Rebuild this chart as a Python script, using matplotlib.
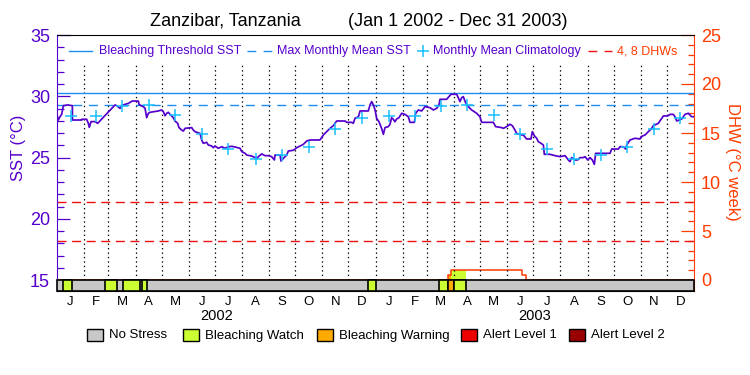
import matplotlib
matplotlib.use('Agg')
import matplotlib.pyplot as plt
from matplotlib.patches import Rectangle
from matplotlib.lines import Line2D
import numpy as np

plt.rcParams['font.family'] = ['Liberation Sans', 'DejaVu Sans']
plt.rcParams['lines.scale_dashes'] = False

# ---------------- data ----------------
title_site = "Zanzibar, Tanzania"
title_period = "(Jan 1 2002 - Dec 31 2003)"

# day since Jan 1 2002, SST (deg C)
sst_days = [0, 1.5, 3.4, 5.3, 7.3, 12.2, 17.6, 17.7, 28.3, 28.4, 34, 35.9, 37, 39, 43.6, 46.6,
            66.5, 68.4, 72.2, 74.1, 78, 81.8, 86.3, 93.2, 94, 96.3, 99, 100.9, 102.8, 104.7,
            106.6, 116.1, 120, 121.9, 123.8, 125.7, 127.6, 129.5, 133.3, 135.2, 138.3, 139.8,
            142.9, 144.8, 146.7, 154.3, 156.2, 158.1, 163.9, 165.8, 167.7, 171.5, 173.4, 177.2,
            179.2, 181, 184.9, 188.7, 192.6, 196.4, 200.2, 204, 209.8, 211.7, 215.5, 217.4,
            223.1, 227, 228.9, 230.8, 234.6, 238.4, 242.2, 246, 249.1, 249.9, 255.6, 256.7,
            259.4, 263.2, 265.1, 270.9, 274.7, 278.5, 282.3, 286.2, 290, 301.4, 305.2, 309.1,
            312.9, 316.7, 320.5, 330.1, 332, 337.7, 339.6, 341.5, 345.4, 347.3, 356.8, 358.7,
            360.6, 362.6, 364.5, 366.3, 369, 372, 374, 375.9, 379.7, 381.6, 383.5, 385.4,
            387.3, 389.2, 391.9, 395, 398.8, 402.6, 404.5, 409.5, 411, 414.1, 417.9, 421.7,
            427.4, 431.3, 435.1, 437.7, 438.9, 446.5, 449.2, 451.5, 458, 459.9, 461.8, 463.7,
            465.6, 467.5, 469.5, 475.2, 480.9, 484.7, 486.6, 500, 502.7, 509.6, 511.5, 515.3,
            519.1, 521.8, 524.8, 526.7, 532.5, 534.4, 538.2, 543.2, 544.7, 547, 549.7, 551.6,
            554.7, 557.4, 558.5, 565, 570.7, 576.5, 582.2, 586, 587.9, 589.8, 593.6, 596.7,
            599.4, 603.2, 605.1, 608.2, 610.8, 613.5, 615.8, 617.3, 633.7, 635.7, 643.3, 645.2,
            649, 651.7, 652.9, 656.7, 662.4, 668.1, 669.3, 673.9, 677.7, 681.5, 683.4, 689.1,
            693, 694.9, 699.8, 702.5, 706.3, 708.2, 710.2, 715.9, 719.7, 723.5, 725.4, 727.3, 730]
sst_vals = [28.47, 28.06, 28.33, 28.52, 29.23, 29.29, 29.23, 28.06, 28.06, 28.12, 28.12, 27.79,
            27.46, 27.93, 27.93, 27.79, 29.29, 29.23, 29.01, 29.23, 29.34, 29.42, 29.61, 29.61,
            29.34, 29.23, 29.15, 29.01, 28.25, 28.61, 28.69, 28.80, 28.88, 28.74, 28.41, 28.61,
            28.69, 28.52, 28.25, 27.98, 27.79, 27.44, 27.24, 27.16, 27.38, 27.44, 27.24, 27.11,
            26.97, 26.43, 26.16, 26.24, 26.02, 25.94, 25.80, 25.94, 25.75, 25.88, 25.75, 25.88,
            25.91, 25.86, 25.75, 25.48, 25.34, 25.20, 25.12, 24.99, 24.93, 25.07, 25.29, 25.15,
            25.15, 25.07, 24.80, 25.20, 25.20, 24.71, 24.93, 25.20, 25.53, 25.59, 25.80, 25.94,
            26.07, 26.35, 26.43, 26.43, 26.84, 27.11, 27.38, 27.60, 27.98, 27.98, 27.87, 27.87,
            27.79, 28.20, 28.33, 28.80, 28.80, 29.29, 29.56, 29.29, 28.88, 28.20, 27.92, 27.38,
            26.89, 27.44, 27.52, 27.71, 28.25, 28.12, 27.92, 28.14, 28.25, 28.61, 28.52, 28.33,
            27.87, 27.87, 28.61, 28.88, 28.80, 29.15, 29.07, 28.88, 29.01, 29.29, 29.75, 29.75,
            29.97, 30.16, 30.16, 29.88, 29.56, 29.88, 29.97, 29.61, 29.29, 28.88, 28.61, 28.33,
            27.87, 27.87, 27.52, 27.44, 27.38, 27.52, 27.71, 27.60, 27.24, 26.97, 26.84, 26.84,
            26.51, 26.51, 27.11, 26.78, 26.57, 26.29, 26.16, 26.02, 25.26, 25.26, 25.15, 25.07,
            25.15, 24.80, 24.66, 24.99, 24.80, 24.80, 24.99, 24.99, 25.07, 24.80, 24.99, 24.80,
            24.44, 25.34, 25.34, 25.69, 25.69, 25.88, 25.88, 25.69, 26.02, 26.43, 26.57, 26.51,
            26.70, 26.84, 27.11, 27.38, 27.60, 27.79, 28.20, 28.39, 28.39, 28.52, 28.52, 28.33,
            27.98, 28.14, 28.52, 28.61, 28.47, 28.33, 28.33]

# monthly mean climatology (Jan..Dec)
clim_vals = [28.41, 28.41, 29.20, 29.26, 28.47, 26.89, 25.67, 24.85, 25.20, 25.83, 27.30, 28.20]
mmm = 29.26
threshold = 30.26
dhw_levels = [4, 8]

# degree heating weeks (step function)
dhw_days = [0, 448.4, 451.8, 532.5, 537.1, 730]
dhw_vals = [0, 0.5, 1.0, 0.5, 0.0, 0.0]

# stress status periods (start day, end day, level)
stress_periods = [(7.2, 17.5, 'watch'), (55.4, 69.1, 'watch'), (76, 95.1, 'watch'),
                  (97, 102.8, 'watch'), (356.8, 365, 'watch'), (438.2, 448.4, 'watch'),
                  (448.4, 455.3, 'warning'), (455.3, 468.7, 'watch')]
dhw_fill_periods = [(448.4, 451.8, 'warning'), (451.8, 468.7, 'watch')]

month_letters = ['J', 'F', 'M', 'A', 'M', 'J', 'J', 'A', 'S', 'O', 'N', 'D']
month_lengths = [31, 28, 31, 30, 31, 30, 31, 31, 30, 31, 30, 31]
years = ['2002', '2003']

legend_labels = ['No Stress', 'Bleaching Watch', 'Bleaching Warning', 'Alert Level 1', 'Alert Level 2']

# ---------------- style ----------------
PURPLE = '#5500CC'
TH_BLUE = '#1E8CF0'
CLIM = '#18C0FF'
DHW_COL = '#FF3C00'
RED_DASH = '#EE1111'
COLORS = {'none': '#C8C8C8', 'watch': '#CCFF33', 'warning': '#FFAA00',
          'alert1': '#EE0000', 'alert2': '#990000'}

W, H = 750, 375
def fx(x): return x / W
def fy(y): return 1 - y / H

fig = plt.figure(figsize=(7.5, 3.75), dpi=100)
fig.patch.set_facecolor('white')
L, R, T, B = 57, 694, 35, 290.7
ax = fig.add_axes([fx(L), fy(B), (R - L) / W, (B - T) / H])
ax2 = ax.twinx()

ybot = 15 - (B - 280) / 12.25
ax.set_xlim(0, 730)
ax.set_ylim(ybot, 35)
ax2.set_ylim((ybot - 15) * 1.25, 25)

ax.set_zorder(ax2.get_zorder() + 1)
ax.patch.set_visible(False)

# month geometry
starts = []
d = 0
for yr in range(2):
    for ml in month_lengths:
        starts.append(d)
        d += ml
starts = np.array(starts)
lengths = np.array(month_lengths * 2)
mids = starts + lengths / 2.0

# dotted month separators
ax.vlines(starts[1:], 15, 32.71, colors='black', linestyles=(0, (1.0, 2.2)), lw=0.9, zorder=1)

# reference lines
ax.axhline(threshold, color=TH_BLUE, lw=1.0, zorder=2)
ax.axhline(mmm, color=TH_BLUE, lw=1.0, ls=(0, (6.5, 4.8)), zorder=2)
for lv in dhw_levels:
    ax2.axhline(lv, color=RED_DASH, lw=1.0, ls=(0, (6.5, 4.0)), zorder=2)

# DHW fill and line
def dhw_at(day):
    idx = np.searchsorted(dhw_days, day, side='right') - 1
    return dhw_vals[idx]
for a, b, lev in dhw_fill_periods:
    v = dhw_at(a)
    ax2.fill_between([a, b], 0, v, color=COLORS[lev], lw=0, zorder=1)
ax2.plot(dhw_days, dhw_vals, drawstyle='steps-post', color=DHW_COL, lw=1.1, zorder=3)

# SST
ax.plot(sst_days, sst_vals, color=PURPLE, lw=1.25, zorder=4)

# climatology markers
ax.plot(mids, clim_vals * 2, ls='none', marker='+', ms=8.5, mew=1.1, color=CLIM, zorder=5)

# stress bar
ax.add_patch(Rectangle((0, ybot), 730, 15 - ybot, fc=COLORS['none'], ec='black', lw=1.2,
                       zorder=6, clip_on=False))
for a, b, lev in stress_periods:
    ax.add_patch(Rectangle((a, ybot), b - a, 15 - ybot, fc=COLORS[lev], ec='black', lw=1.2,
                           zorder=7, clip_on=False))

# axes styling
for side in ['top', 'bottom']:
    ax.spines[side].set_color('black')
ax.spines['left'].set_color(PURPLE)
ax.spines['right'].set_visible(False)
ax2.spines['right'].set_color(DHW_COL)
ax2.spines['left'].set_visible(False)
ax2.spines['top'].set_visible(False)
ax2.spines['bottom'].set_visible(False)

ax.set_yticks([15, 20, 25, 30, 35])
ax.set_yticks(np.arange(16, 35, 1), minor=True)
ax.tick_params(axis='y', which='both', direction='in', colors=PURPLE, labelsize=13, pad=5)
ax.tick_params(axis='y', which='major', length=9.5, width=0.9)
ax.tick_params(axis='y', which='minor', length=4.8, width=0.9)

ax2.set_yticks([0, 5, 10, 15, 20, 25])
ax2.set_yticks(np.arange(1, 25, 1), minor=True)
ax2.tick_params(axis='y', which='both', direction='in', colors=DHW_COL, labelsize=13, pad=5)
ax2.tick_params(axis='y', which='major', length=9.5, width=0.9)
ax2.tick_params(axis='y', which='minor', length=4.5, width=0.9)

ax.set_xticks(mids)
ax.set_xticklabels(month_letters * 2, fontsize=9.5)
ax.tick_params(axis='x', length=0, pad=3.5, colors='black')

for i, yr in enumerate(years):
    ax.text(182.5 + 365 * i, -0.098, yr, transform=ax.get_xaxis_transform(),
            ha='center', va='center', fontsize=10.5)

ax.set_ylabel('SST (°C)', color=PURPLE, fontsize=12)
ax.yaxis.set_label_coords(-0.061, 0.56)
ax2.set_ylabel('DHW (°C week)', color=DHW_COL, fontsize=12, rotation=270)
ax2.yaxis.set_label_coords(1.06, 0.505)
ax2.yaxis.label.set_va('center')
ax.yaxis.label.set_va('center')

# title
fig.text(fx(150), fy(21), title_site, ha='left', va='center', fontsize=13)
fig.text(fx(348), fy(21), title_period, ha='left', va='center', fontsize=13)

# in-plot legend
ly = fy(51)
fig.add_artist(Line2D([fx(69), fx(92)], [ly, ly], color=TH_BLUE, lw=1.0))
fig.text(fx(99), ly, 'Bleaching Threshold SST', va='center', color=PURPLE, fontsize=9)
fig.add_artist(Line2D([fx(247), fx(272)], [ly, ly], color=TH_BLUE, lw=1.0, ls=(0, (6.3, 5.3))))
fig.text(fx(277), ly, 'Max Monthly Mean SST', va='center', color=PURPLE, fontsize=9)
fig.add_artist(Line2D([fx(422.7)], [ly], color=CLIM, marker='+', ms=8.5, mew=1.1, ls='none'))
fig.text(fx(433), ly, 'Monthly Mean Climatology', va='center', color=PURPLE, fontsize=9)
fig.add_artist(Line2D([fx(588), fx(612)], [ly, ly], color=RED_DASH, lw=1.0, ls=(0, (6.3, 5.3))))
fig.text(fx(617), ly, '4, 8 DHWs', va='center', color=DHW_COL, fontsize=9)

# bottom legend
keys = ['none', 'watch', 'warning', 'alert1', 'alert2']
px0 = [87, 183.3, 317, 461, 569.3]
for k, x0, lab in zip(keys, px0, legend_labels):
    fig.add_artist(Rectangle((fx(x0), fy(340.7)), 16 / W, 11.3 / H, transform=fig.transFigure,
                             fc=COLORS[k], ec='black', lw=1.0))
    fig.text(fx(x0 + 22), fy(335.5), lab, va='center', ha='left', fontsize=9.5)

fig.savefig('out.png', dpi=100, facecolor='white')
